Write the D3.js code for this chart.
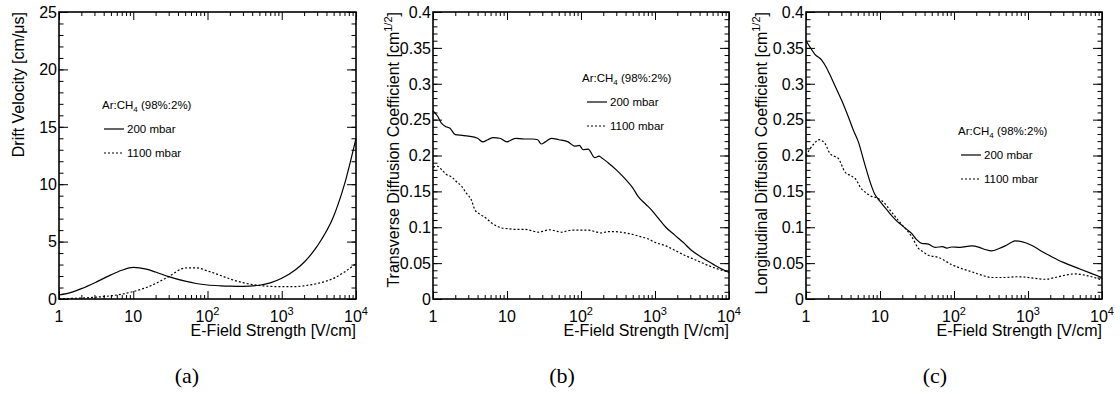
<!DOCTYPE html>
<html>
<head>
<meta charset="utf-8">
<script src="https://cdn.jsdelivr.net/npm/d3@7"></script>
<style>
  body { margin: 0; background: #fff; }
  svg { font-family: "Liberation Sans", Arial, sans-serif; }
</style>
</head>
<body>
<div id="chart"></div>
<script>
// ---- data: [E-field (V/cm), value] ----
const drift200 = [[1,0.35],[1.5,0.6],[2,0.9],[3,1.4],[5,2.1],[7,2.5],[10,2.75],[15,2.6],[20,2.35],
  [30,1.95],[50,1.55],[70,1.35],[100,1.22],[150,1.15],[200,1.12],[300,1.1],[500,1.2],[700,1.4],
  [1000,1.8],[1500,2.5],[2000,3.2],[3000,4.6],[5000,7.2],[7000,10.0],[10000,14.0]];
const drift1100 = [[1,0.03],[1.5,0.05],[2,0.08],[3,0.15],[5,0.28],[7,0.42],[10,0.65],[15,1.0],[20,1.35],
  [30,1.95],[50,2.7],[70,2.72],[100,2.45],[150,2.05],[200,1.75],[300,1.42],[500,1.18],[700,1.1],
  [1000,1.07],[1500,1.08],[2000,1.15],[3000,1.35],[5000,1.8],[7000,2.35],[10000,3.1]];

const trans200 = [[1,0.262],[1.15,0.255],[1.3,0.245],[1.5,0.24],[1.7,0.238],[2,0.229],[2.5,0.228],[3,0.227],
  [4,0.224],[4.7,0.219],[5.5,0.222],[6.5,0.225],[8,0.224],[10,0.219],[13,0.224],[17,0.223],[22,0.223],
  [26,0.222],[29,0.216],[33,0.219],[40,0.224],[50,0.222],[67,0.219],[82,0.213],[95,0.214],[107,0.208],
  [125,0.209],[153,0.197],[175,0.199],[189,0.197],[232,0.19],[300,0.18],[390,0.168],[500,0.155],
  [590,0.143],[750,0.132],[900,0.124],[1100,0.113],[1400,0.1],[1850,0.089],[2400,0.079],[3100,0.068],
  [4000,0.06],[5150,0.053],[7000,0.045],[10000,0.037]];
const trans1100 = [[1,0.184],[1.15,0.185],[1.31,0.18],[1.5,0.174],[1.79,0.17],[2.1,0.163],[2.44,0.157],
  [2.8,0.148],[3.3,0.138],[3.7,0.124],[4.5,0.117],[5.3,0.112],[6.2,0.106],[7.5,0.101],[8.5,0.099],
  [10.3,0.098],[13,0.097],[17.5,0.097],[22,0.095],[26.4,0.093],[32,0.095],[37,0.0965],[45,0.095],
  [54.5,0.093],[65,0.095],[76,0.096],[100,0.096],[125,0.096],[155,0.094],[189,0.092],[230,0.094],
  [286,0.094],[350,0.093],[432,0.0915],[540,0.089],[655,0.0865],[800,0.084],[995,0.079],[1400,0.074],
  [1845,0.068],[2400,0.062],[3090,0.057],[4000,0.052],[5150,0.047],[7000,0.042],[10000,0.0375]];

const long200 = [[1,0.36],[1.15,0.35],[1.32,0.341],[1.63,0.333],[1.9,0.322],[2.23,0.307],[2.6,0.292],
  [3.03,0.277],[3.73,0.254],[4.3,0.237],[5.1,0.219],[6.26,0.187],[7.7,0.157],[8.5,0.146],[9.5,0.139],
  [10,0.136],[12.9,0.122],[16,0.111],[19.6,0.103],[23,0.097],[26.8,0.0915],[31,0.083],[36.6,0.0776],
  [45,0.0765],[55.6,0.072],[70,0.073],[80,0.071],[93,0.0725],[120,0.072],[173,0.074],[220,0.072],
  [264,0.069],[324,0.067],[400,0.07],[491,0.074],[600,0.079],[667,0.081],[819,0.08],[1114,0.075],
  [1500,0.067],[2090,0.059],[3000,0.051],[4700,0.043],[7000,0.036],[10000,0.03]];
const long1100 = [[1,0.2],[1.25,0.215],[1.5,0.222],[1.8,0.217],[2.1,0.203],[2.4,0.199],[2.73,0.196],
  [3.36,0.177],[4,0.172],[4.6,0.168],[5.66,0.153],[6.5,0.148],[7.7,0.143],[9,0.141],[10.6,0.137],
  [14.6,0.12],[19.6,0.104],[23,0.096],[26.8,0.087],[33,0.0707],[38,0.066],[45,0.061],[61.5,0.058],
  [93,0.048],[130,0.042],[173,0.038],[240,0.033],[324,0.03],[500,0.03],[700,0.031],[910,0.0305],
  [1200,0.029],[1690,0.0275],[2560,0.031],[3500,0.034],[4300,0.035],[6000,0.033],[10000,0.0265]];

// tick labels
const xTickLabels = [{ v: 1, base: '1', exp: '' }, { v: 10, base: '10', exp: '' },
  { v: 100, base: '10', exp: '2' }, { v: 1000, base: '10', exp: '3' }, { v: 10000, base: '10', exp: '4' }];
const velTicks = [0, 5, 10, 15, 20, 25];
const diffTicks = [0, 0.05, 0.1, 0.15, 0.2, 0.25, 0.3, 0.35, 0.4];
const seriesNames = ['200 mbar', '1100 mbar'];

const W = 1120, H = 396;
const svg = d3.select('#chart').append('svg').attr('width', W).attr('height', H);

const panels = [
  { left: 59, right: 356, top: 12, bottom: 299, yMax: 25, majors: velTicks, minorStep: 1,
    series: [drift200, drift1100], titleX: 24, title: ['Drift Velocity [cm/\u03bcs]', ''],
    legend: { x: 102, y: 105, lx: 104 }, caption: '(a)', capX: 187 },
  { left: 433, right: 729, top: 12, bottom: 299, yMax: 0.4, majors: diffTicks, minorStep: 0.01,
    series: [trans200, trans1100], titleX: 399, title: ['Transverse Diffusion Coefficient [cm', ']'],
    legend: { x: 582, y: 78, lx: 587 }, caption: '(b)', capX: 562 },
  { left: 806, right: 1102, top: 12, bottom: 299, yMax: 0.4, majors: diffTicks, minorStep: 0.01,
    series: [long200, long1100], titleX: 767, title: ['Longitudinal Diffusion Coefficient [cm', ']'],
    legend: { x: 958, y: 131, lx: 961 }, caption: '(c)', capX: 935 }
];

const minorX = [];
for (let d = 0; d < 4; d++) for (let k = 2; k <= 9; k++) minorX.push(k * Math.pow(10, d));
const majorX = xTickLabels.map(t => t.v);

panels.forEach(p => {
  const g = svg.append('g');
  const x = d3.scaleLog().domain([1, 1e4]).range([p.left, p.right]);
  const y = d3.scaleLinear().domain([0, p.yMax]).range([p.bottom, p.top]);
  const nMinor = Math.round(p.yMax / p.minorStep);
  const minorY = d3.range(0, nMinor + 1).map(i => +(i * p.minorStep).toFixed(4));

  const addAxis = (axis, tr) => {
    const a = g.append('g').attr('transform', tr).call(axis);
    a.select('.domain').remove();
    a.selectAll('line').attr('stroke', '#000').attr('stroke-width', 1);
  };
  addAxis(d3.axisBottom(x).tickValues(majorX).tickSize(-8).tickFormat(''), `translate(0,${p.bottom})`);
  addAxis(d3.axisBottom(x).tickValues(minorX).tickSize(-4).tickFormat(''), `translate(0,${p.bottom})`);
  addAxis(d3.axisTop(x).tickValues(majorX).tickSize(-8).tickFormat(''), `translate(0,${p.top})`);
  addAxis(d3.axisTop(x).tickValues(minorX).tickSize(-4).tickFormat(''), `translate(0,${p.top})`);
  addAxis(d3.axisLeft(y).tickValues(p.majors).tickSize(-9).tickFormat(''), `translate(${p.left},0)`);
  addAxis(d3.axisLeft(y).tickValues(minorY).tickSize(-4.5).tickFormat(''), `translate(${p.left},0)`);
  addAxis(d3.axisRight(y).tickValues(p.majors).tickSize(-9).tickFormat(''), `translate(${p.right},0)`);
  addAxis(d3.axisRight(y).tickValues(minorY).tickSize(-4.5).tickFormat(''), `translate(${p.right},0)`);

  // frame
  g.append('rect')
    .attr('x', p.left).attr('y', p.top)
    .attr('width', p.right - p.left).attr('height', p.bottom - p.top)
    .attr('fill', 'none').attr('stroke', '#000').attr('stroke-width', 1.6);

  // x tick labels with superscripts
  xTickLabels.forEach(t => {
    const txt = g.append('text')
      .attr('x', x(t.v)).attr('y', 322)
      .attr('text-anchor', 'middle').attr('font-size', 16);
    txt.append('tspan').text(t.base);
    if (t.exp) txt.append('tspan').attr('dy', -7).attr('font-size', 11).text(t.exp);
  });

  // y tick labels
  g.selectAll('.ylab').data(p.majors).join('text')
    .attr('x', p.left - 2).attr('y', d => y(d))
    .attr('dy', '0.36em')
    .attr('text-anchor', 'end').attr('font-size', 16)
    .text(d => String(d));

  // axis titles
  g.append('text')
    .attr('x', p.right).attr('y', 336)
    .attr('text-anchor', 'end').attr('font-size', 16)
    .text('E-Field Strength [V/cm]');
  const yt = g.append('text')
    .attr('transform', `translate(${p.titleX},${p.top}) rotate(-90)`)
    .attr('text-anchor', 'end').attr('font-size', 16);
  yt.append('tspan').text(p.title[0]);
  if (p.title[1]) {
    yt.append('tspan').attr('dy', -7).attr('font-size', 11).text('1/2');
    yt.append('tspan').attr('dy', 7).text(p.title[1]);
  }

  // curves
  const line = d3.line().x(d => x(d[0])).y(d => y(d[1])).curve(d3.curveMonotoneX);
  p.series.forEach((s, i) => {
    g.append('path').datum(s)
      .attr('fill', 'none').attr('stroke', '#000').attr('stroke-width', 1.2)
      .attr('stroke-dasharray', i === 1 ? '2,2' : null)
      .attr('d', line);
  });

  // legend
  const lg = p.legend;
  const head = g.append('text').attr('x', lg.x).attr('y', lg.y + 4).attr('font-size', 11.5);
  head.append('tspan').text('Ar:CH');
  head.append('tspan').attr('dy', 3).attr('font-size', 8).text('4');
  head.append('tspan').attr('dy', -3).text(' (98%:2%)');
  seriesNames.forEach((n, i) => {
    const ly = lg.y + 24 * (i + 1);
    g.append('line')
      .attr('x1', lg.lx).attr('x2', lg.lx + 20).attr('y1', ly).attr('y2', ly)
      .attr('stroke', '#000').attr('stroke-width', 1.2)
      .attr('stroke-dasharray', i === 1 ? '2,2' : null);
    g.append('text').attr('x', lg.lx + 23).attr('y', ly + 4)
      .attr('font-size', 11.5).text(n);
  });

  // caption
  g.append('text')
    .attr('x', p.capX).attr('y', 383)
    .attr('text-anchor', 'middle')
    .attr('font-family', '"Liberation Serif", "Times New Roman", serif')
    .attr('font-size', 22)
    .text(p.caption);
});
</script>
</body>
</html>
